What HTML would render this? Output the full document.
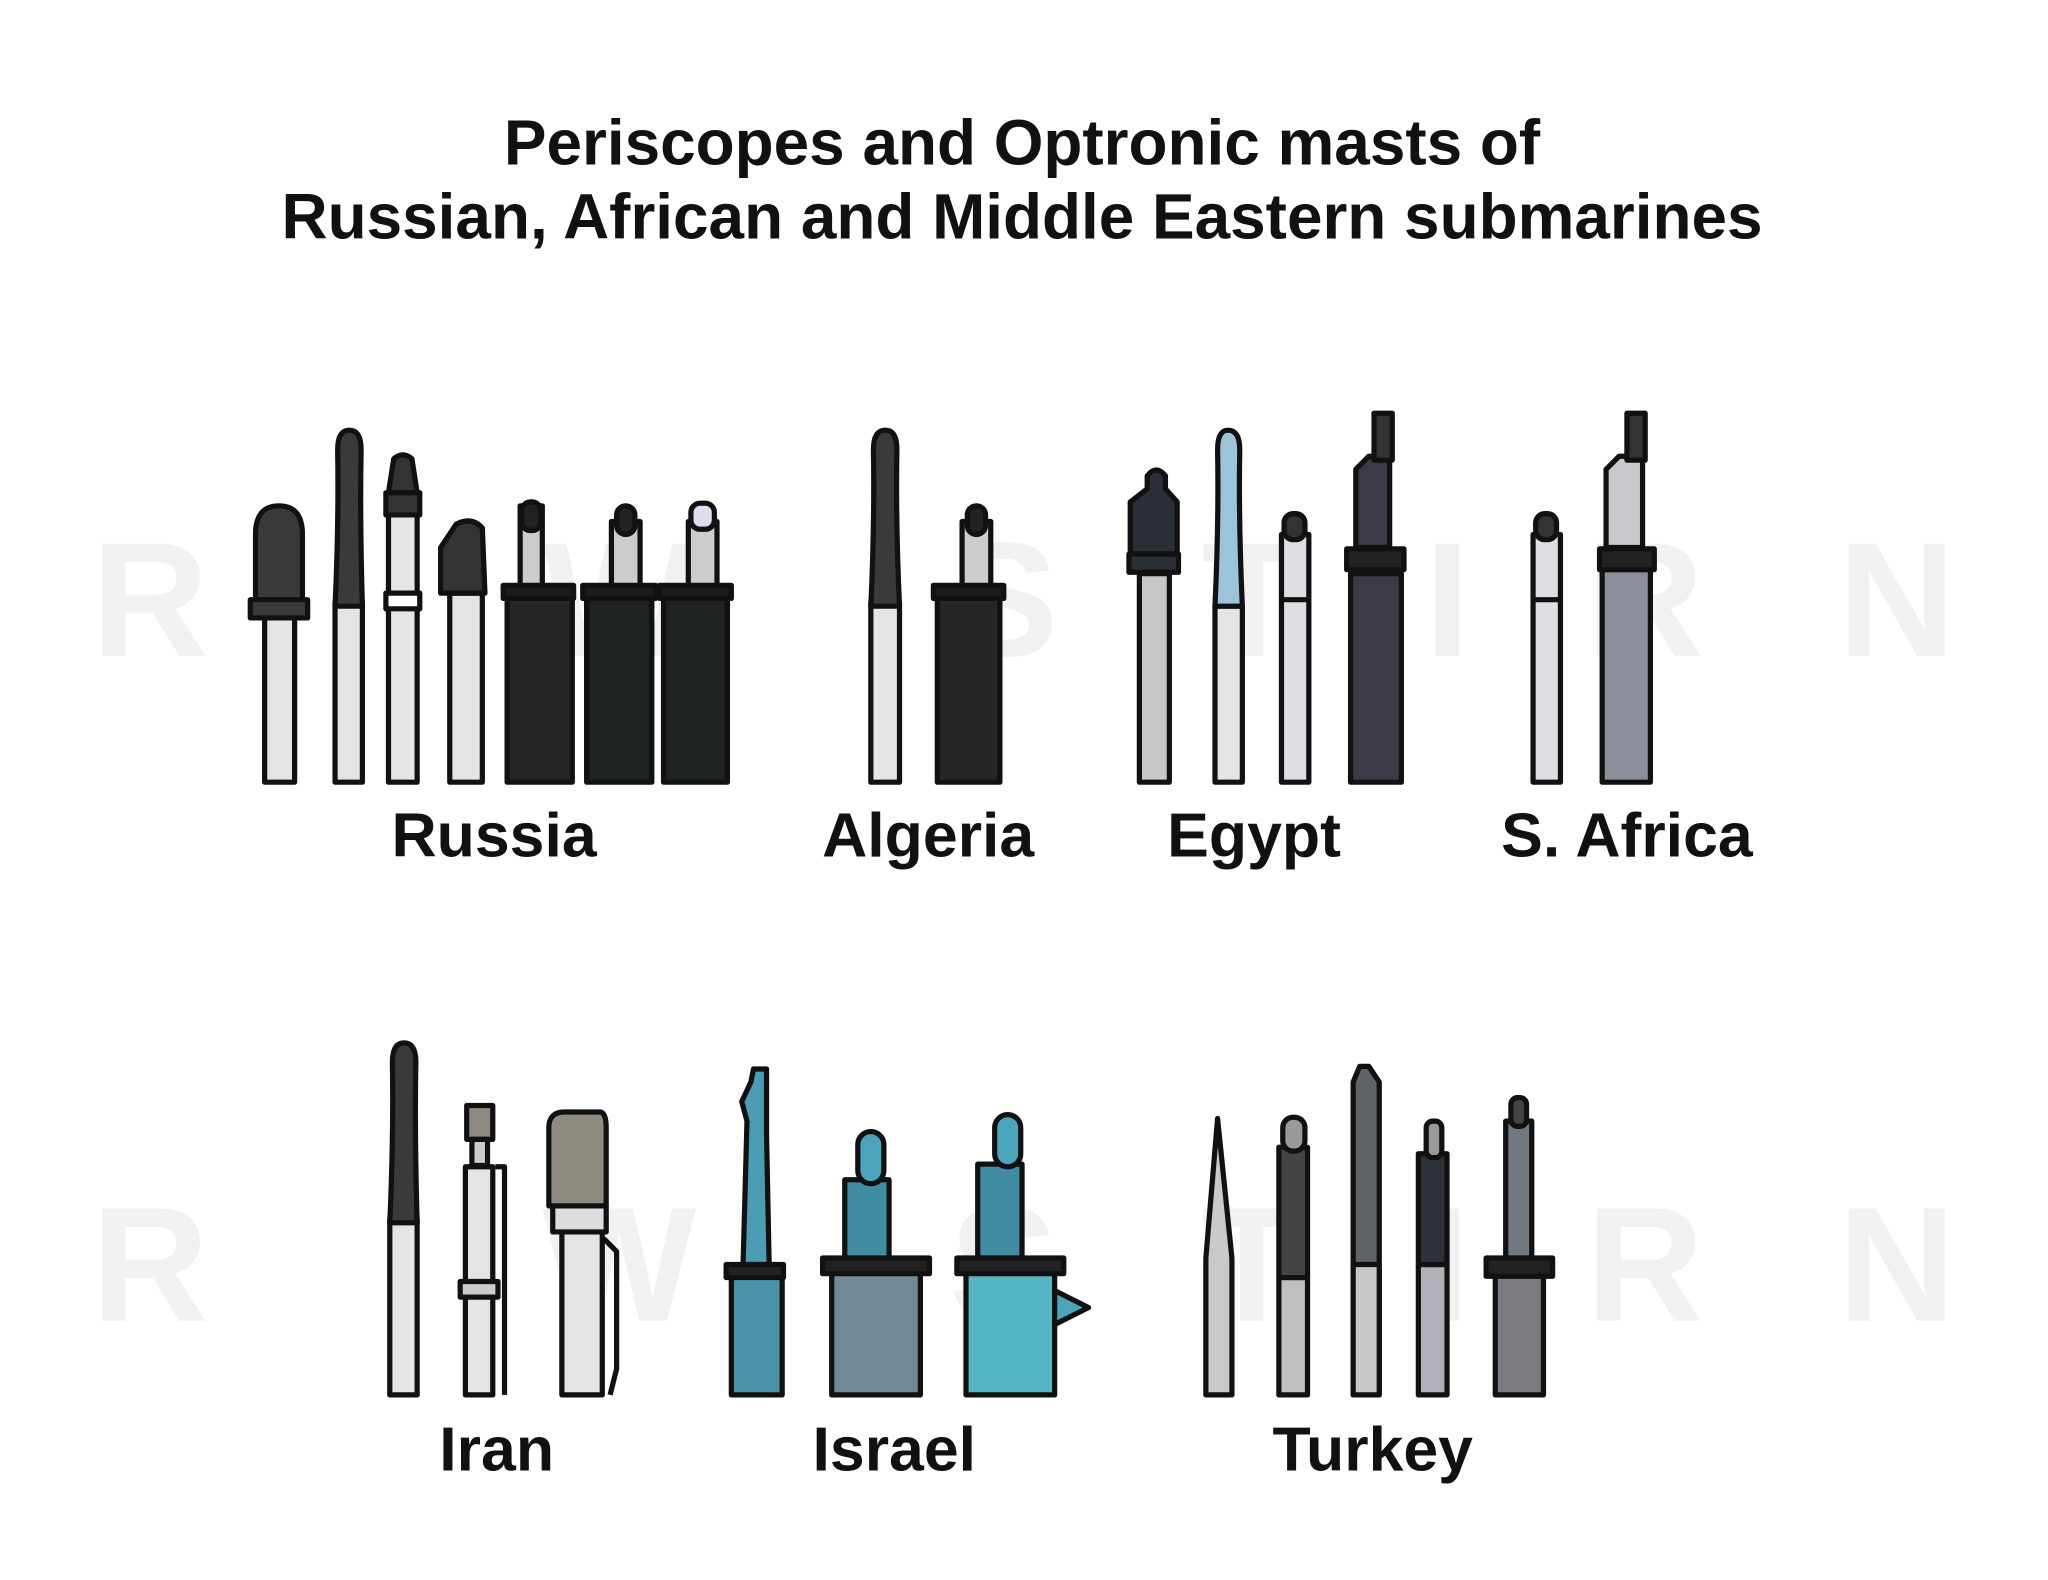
<!DOCTYPE html>
<html><head><meta charset="utf-8"><style>
html,body{margin:0;padding:0;background:#fff;}
svg{display:block;}
text{font-family:"Liberation Sans",Arial,sans-serif;font-weight:bold;}
</style></head><body>
<svg width="2048" height="1580" viewBox="0 0 1571 1212" preserveAspectRatio="none" xmlns="http://www.w3.org/2000/svg" stroke="#111" stroke-width="4" stroke-linejoin="round">
<rect width="1571" height="1212" fill="#fff" stroke="none"/>
<g fill="#f1f1f1" stroke="none" font-size="125" text-anchor="middle">
<text x="115" y="503">R</text><text x="475" y="503">W</text><text x="770" y="503">S</text><text x="960" y="503">T</text><text x="1110" y="503">I</text><text x="1262" y="503">R</text><text x="1455" y="503">N</text>
<text x="115" y="1013">R</text><text x="475" y="1013">W</text><text x="770" y="1013">S</text><text x="960" y="1013">T</text><text x="1110" y="1013">I</text><text x="1262" y="1013">R</text><text x="1455" y="1013">N</text>
</g>
<g stroke="none" fill="#111" font-size="49" text-anchor="middle">
<text x="784" y="126">Periscopes and Optronic masts of</text>
<text x="784" y="183">Russian, African and Middle Eastern submarines</text>
</g>

<g>
<rect x="203" y="472" width="23" height="128" fill="#e4e4e4"/>
<path d="M196 460 V410 Q196 388 214 388 Q232 388 232 410 V460 Z" fill="#3a3a3a"/>
<rect x="192" y="460" width="44" height="14" fill="#3a3a3a"/>
<rect x="257" y="462" width="21" height="138" fill="#e4e4e4"/>
<path d="M257 465 Q260 400 259 345 Q259 330 268 330 Q277 330 277 345 Q276 400 278 465 Z" fill="#3a3a3a"/>
<rect x="298" y="395" width="22" height="205" fill="#e4e4e4"/>
<rect x="296" y="455" width="26" height="12" fill="#fff"/>
<path d="M298 378 L302 352 Q309 346 316 352 L320 378 Z" fill="#333"/>
<rect x="296" y="378" width="26" height="17" fill="#333"/>
<rect x="345" y="455" width="25" height="145" fill="#e4e4e4"/>
<path d="M338 455 V420 L350 402 Q362 396 370 405 L372 455 Z" fill="#333"/>
<rect x="399" y="388" width="17" height="64" fill="#ccc"/><rect x="400" y="385" width="15" height="22" rx="7" fill="#222"/>
<rect x="389" y="455" width="50" height="145" fill="#262626"/><rect x="386" y="449" width="54" height="10" fill="#1c1c1c"/>
<rect x="469" y="400" width="22" height="52" fill="#ccc"/><rect x="473" y="388" width="14" height="22" rx="7" fill="#222"/>
<rect x="450" y="455" width="50" height="145" fill="#1e2222"/><rect x="447" y="449" width="56" height="10" fill="#1c1c1c"/>
<rect x="528" y="400" width="22" height="52" fill="#ccc"/><rect x="530" y="386" width="18" height="20" rx="7" fill="#dde"/>
<rect x="509" y="455" width="49" height="145" fill="#1e2222"/><rect x="506" y="449" width="55" height="10" fill="#1c1c1c"/>
</g>
<g>
<rect x="668" y="462" width="22" height="138" fill="#e4e4e4"/>
<path d="M668 465 Q671 400 670 345 Q670 330 679 330 Q688 330 688 345 Q687 400 690 465 Z" fill="#3a3a3a"/>
<rect x="738" y="400" width="22" height="52" fill="#ccc"/><rect x="742" y="388" width="14" height="22" rx="7" fill="#222"/>
<rect x="719" y="455" width="48" height="145" fill="#262626"/><rect x="716" y="449" width="54" height="10" fill="#1c1c1c"/>
</g>
<g>
<rect x="874" y="440" width="23" height="160" fill="#c8c8c8"/>
<path d="M867 425 V385 L880 375 V365 Q887 356 894 365 V375 L903 385 V425 Z" fill="#2a2e36"/>
<rect x="866" y="425" width="38" height="14" fill="#2a2e36"/>
<rect x="932" y="465" width="21" height="135" fill="#e4e4e4"/>
<path d="M932 465 Q935 400 934 345 Q934 330 942 330 Q951 330 951 345 Q950 400 953 465 Z" fill="#9cc4d8"/>
<rect x="983" y="410" width="21" height="190" fill="#dedfe2"/><rect x="985" y="394" width="16" height="20" rx="7" fill="#333"/>
<line x1="983" y1="460" x2="1004" y2="460"/>
<path d="M1036 440 H1075 V600 H1036 Z" fill="#3a3b44"/>
<path d="M1040 420 V360 L1050 350 H1066 V420 Z" fill="#3a3b44"/>
<rect x="1054" y="317" width="14" height="36" fill="#333"/>
<rect x="1033" y="421" width="44" height="16" fill="#222"/>
</g>
<g>
<rect x="1176" y="410" width="21" height="190" fill="#dedfe2"/><rect x="1178" y="394" width="16" height="20" rx="7" fill="#333"/>
<line x1="1176" y1="460" x2="1197" y2="460"/>
<path d="M1229 437 H1266 V600 H1229 Z" fill="#8a8f99"/>
<path d="M1232 420 V360 L1242 350 H1260 V420 Z" fill="#c8c9cc"/>
<rect x="1248" y="317" width="14" height="36" fill="#333"/>
<rect x="1227" y="421" width="42" height="16" fill="#222"/>
</g>
<g stroke="none" fill="#111" font-size="48" text-anchor="middle">
<text x="379" y="657">Russia</text><text x="712" y="657">Algeria</text><text x="962" y="657">Egypt</text><text x="1248" y="657">S. Africa</text>
</g>

<g>
<rect x="299" y="935" width="21" height="135" fill="#e4e4e4"/>
<path d="M299 938 Q302 870 301 815 Q301 800 310 800 Q319 800 319 815 Q318 870 320 938 Z" fill="#3a3a3a"/>
<path d="M380 895 H387 V1070" fill="none"/>
<rect x="357" y="895" width="21" height="175" fill="#e4e4e4"/>
<rect x="353" y="983" width="29" height="12" fill="#ccc"/>
<rect x="358" y="848" width="20" height="26" fill="#8f8b80"/>
<rect x="362" y="874" width="12" height="20" fill="#ccc"/>
<path d="M463 950 L473 960 V1050 L468 1070" fill="none"/>
<rect x="431" y="945" width="31" height="125" fill="#e4e4e4"/>
<rect x="424" y="925" width="41" height="20" fill="#ddd"/>
<path d="M421 920 V865 Q421 853 433 853 H460 Q465 853 465 865 V925 H421 Z" fill="#8f8b80"/>
</g>
<g>
<rect x="561" y="975" width="39" height="95" fill="#4b92a8"/>
<rect x="557" y="970" width="44" height="10" fill="#222"/>
<path d="M570 970 L573 860 L569 845 L576 830 L578 820 H588 V870 L590 970 Z" fill="#4b9db3"/>
<rect x="638" y="975" width="68" height="95" fill="#6f8a98"/>
<rect x="631" y="965" width="82" height="12" fill="#222"/>
<rect x="648" y="905" width="34" height="60" fill="#3f8ca3"/>
<rect x="658" y="868" width="20" height="40" rx="10" fill="#4ba5bd"/>
<rect x="741" y="975" width="68" height="95" fill="#57b6c4"/>
<rect x="734" y="965" width="82" height="12" fill="#222"/>
<path d="M809 990 L835 1003 L809 1016 Z" fill="#4ba5bd"/>
<rect x="750" y="893" width="34" height="72" fill="#3f8ca3"/>
<rect x="763" y="855" width="20" height="40" rx="10" fill="#4ba5bd"/>
</g>
<g>
<path d="M925 1070 V965 L934 858 L945 965 V1070 Z" fill="#c9c9c9"/>
<rect x="981" y="980" width="22" height="90" fill="#c0c0c0"/>
<rect x="981" y="880" width="22" height="100" fill="#444"/><rect x="984" y="857" width="17" height="26" rx="8" fill="#999"/>
<path d="M1038 1070 V830 L1043 818 L1050 818 L1058 830 V1070 Z" fill="#5f6566"/>
<rect x="1038" y="970" width="20" height="100" fill="#c8c8c8"/>
<rect x="1088" y="970" width="22" height="100" fill="#b0b0b8"/>
<rect x="1088" y="885" width="22" height="85" fill="#2d3238"/><rect x="1094" y="860" width="12" height="28" rx="5" fill="#999"/>
<rect x="1147" y="978" width="37" height="92" fill="#7c7a80"/>
<rect x="1140" y="965" width="51" height="14" fill="#222"/>
<rect x="1155" y="860" width="20" height="105" fill="#707880"/>
<rect x="1159" y="842" width="12" height="22" rx="5" fill="#444"/>
</g>
<g stroke="none" fill="#111" font-size="48" text-anchor="middle">
<text x="381" y="1128">Iran</text><text x="686" y="1128">Israel</text><text x="1053" y="1128">Turkey</text>
</g>
</svg>
</body></html>
